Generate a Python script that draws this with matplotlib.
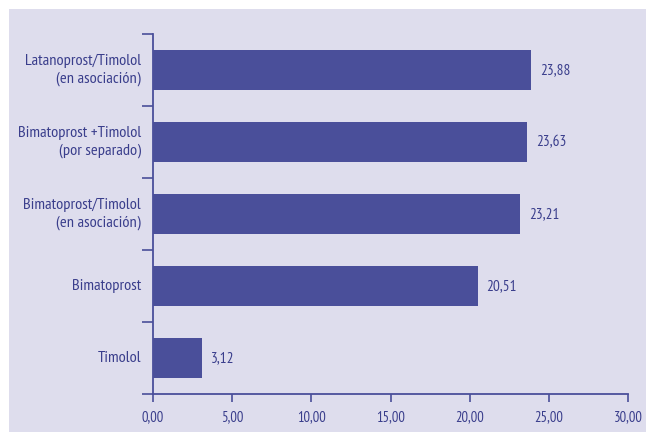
import matplotlib
matplotlib.use("Agg")
import matplotlib.pyplot as plt
from matplotlib.patches import Rectangle
from matplotlib.font_manager import fontManager

categories = ["Latanoprost/Timolol\n(en asociación)",
              "Bimatoprost +Timolol\n(por separado)",
              "Bimatoprost/Timolol\n(en asociación)",
              "Bimatoprost",
              "Timolol"]
values = [23.88, 23.63, 23.21, 20.51, 3.12]
value_labels = ["23,88", "23,63", "23,21", "20,51", "3,12"]
xticks = [0, 5, 10, 15, 20, 25, 30]
xtick_labels = ["0,00", "5,00", "10,00", "15,00", "20,00", "25,00", "30,00"]

names = {f.name for f in fontManager.ttflist}
fam = [f for f in ["PT Sans Narrow", "Open Sans Condensed", "Roboto Condensed", "DejaVu Sans"] if f in names]
plt.rcParams['font.family'] = fam

bg = "#dedded"
bar_c = "#4a4f9a"
txt_c = "#3a3e8c"

fig = plt.figure(figsize=(6.46, 4.32), dpi=100, facecolor="white")
fig.patches.append(Rectangle((9/646, 0), 1 - 9/646, 1 - 9/432, transform=fig.transFigure,
                             facecolor=bg, edgecolor="none", zorder=-10))
ax = fig.add_axes([153/646, 1 - 394/432, (628 - 153)/646, (394 - 34)/432])
ax.set_facecolor("none")

n = len(categories)
ypos = list(range(n))
ax.barh(ypos, values, height=0.56, color=bar_c, zorder=3)
ax.set_ylim(n - 0.5, -0.5)
ax.set_xlim(0, 30)

for y, v, lab in zip(ypos, values, value_labels):
    ax.text(v + 0.55, y, lab, va="center", ha="left", fontsize=11, color=txt_c)

for y, lab in zip(ypos, categories):
    ax.text(-0.75, y, lab, va="center", ha="right", fontsize=11.8, color=txt_c,
            multialignment="right", linespacing=1.25, transform=ax.transData)

ax.set_yticks([i - 0.5 for i in range(n + 1)])
ax.set_yticklabels([])
ax.tick_params(axis="y", length=8, width=1.2, color=bar_c, direction="out")
ax.set_xticks(xticks)
ax.set_xticklabels(xtick_labels, fontsize=10.5, color=txt_c)
ax.tick_params(axis="x", length=6, width=1.2, color=bar_c, direction="out", pad=6)

for s in ["top", "right"]:
    ax.spines[s].set_visible(False)
for s in ["left", "bottom"]:
    ax.spines[s].set_color(bar_c)
    ax.spines[s].set_linewidth(1.3)

fig.savefig("out.png", dpi=100, facecolor="white")
